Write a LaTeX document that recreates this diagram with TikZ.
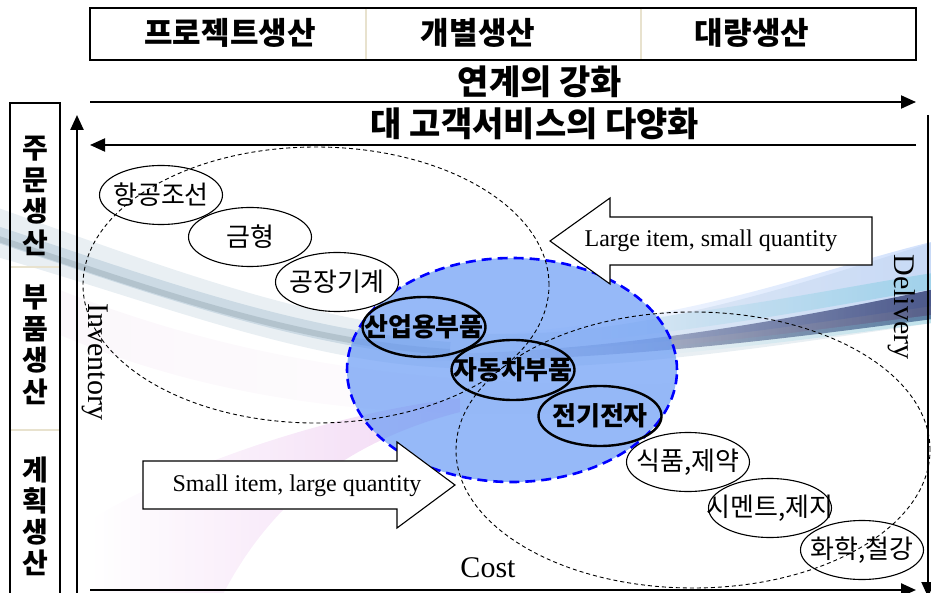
\documentclass[tikz,border=0pt]{standalone}
\usepackage{fontspec}
\setmainfont{Liberation Serif}
\newfontfamily\kr{Noto Sans CJK KR}
\usetikzlibrary{arrows.meta, shapes.geometric, fadings, positioning}

\definecolor{sepline}{RGB}{232,226,206}
\definecolor{partblue}{RGB}{105,155,245}
\definecolor{bandgrey}{RGB}{150,180,200}
\definecolor{bandnavy}{RGB}{20,30,90}
\definecolor{bandcyan}{RGB}{110,200,220}
\definecolor{mistpink}{RGB}{225,165,230}

% keep the ellipse size fixed whatever the label length
\newcommand{\flatlbl}[1]{\makebox[0pt]{#1}}

\begin{document}
\begin{tikzpicture}[x=1pt,y=-1pt,
  every node/.style={inner sep=0pt},
  hdtext/.style={font=\kr\bfseries\fontsize{31}{31}\selectfont},
  trendtext/.style={font=\kr\bfseries\fontsize{34}{34}\selectfont},
  coltext/.style={font=\kr\bfseries\fontsize{28}{28}\selectfont},
  itemnode/.style={ellipse,draw,fill=white,line width=1.1pt,minimum width=123pt,minimum height=59pt,font=\kr\fontsize{26}{26}\selectfont},
  keynode/.style={ellipse,draw,line width=2.4pt,minimum width=123pt,minimum height=60pt,font=\kr\bfseries\fontsize{26}{26}\selectfont},
  grpnode/.style={ellipse,draw,dash pattern=on 4pt off 3pt,line width=0.9pt},
  axisline/.style={line width=2.4pt,-{Triangle[length=15pt,width=13pt]}},
  flowarrow/.style={draw,line width=1.1pt,fill=white},
  entext/.style={font=\fontsize{24}{24}\selectfont},
  axistext/.style={font=\fontsize{30}{30}\selectfont}
]
\useasboundingbox (0,0) rectangle (931,593);
\clip (0,0) rectangle (931,593);

% background swoosh
\fill[bandgrey!60, opacity=.35] (-10,205) .. controls (150,262) and (300,320) .. (450,332)
  .. controls (620,345) and (780,290) .. (940,240) -- (940,322)
  .. controls (780,345) and (620,372) .. (450,368) .. controls (300,362) and (150,300) .. (-10,255) -- cycle;
\draw[bandgrey, line width=16pt, opacity=.35] (-10,232) .. controls (150,285) and (300,340) .. (450,350);
\draw[bandgrey!70!black, line width=6pt, opacity=.25] (-10,236) .. controls (150,290) and (300,343) .. (450,352);
\fill[partblue!60, opacity=.5, path fading=west] (480,335) .. controls (700,322) and (820,268) .. (940,240)
  -- (940,305) .. controls (800,325) and (650,350) .. (480,352) -- cycle;
\draw[bandcyan, line width=16pt, opacity=.45, path fading=west] (600,332) .. controls (760,314) and (860,292) .. (940,280);
\fill[bandnavy, opacity=.7, path fading=west] (420,354) .. controls (600,354) and (780,322) .. (940,288)
  -- (940,318) .. controls (780,340) and (600,362) .. (420,361) -- cycle;
\draw[bandcyan, line width=8pt, opacity=.35, path fading=west] (650,352) .. controls (780,340) and (860,328) .. (940,318);
\fill[violet!25, opacity=.12, path fading=east] (60,290) .. controls (250,365) and (450,392) .. (700,382)
  -- (700,405) .. controls (450,425) and (250,415) .. (60,335) -- cycle;
\fill[mistpink, opacity=.45, path fading=west] (90,600) -- (220,600) .. controls (270,500) and (350,440) .. (460,412)
  -- (460,398) .. controls (320,415) and (170,470) .. (90,520) -- cycle;

% header row
\draw[line width=2pt] (90,8) rectangle (916,60);
\draw[sepline, line width=1.5pt] (366,9) -- (366,59) (641,9) -- (641,59);
\node[hdtext] (hdProj) at (230,33) {프로젝트생산};
\node[hdtext] (hdJob) at (478,33) {개별생산};
\node[hdtext] (hdMass) at (752,33) {대량생산};

\node[trendtext] (tLink) at (540,82) {연계의 강화};
\node[trendtext] (tServ) at (535,124) {대 고객서비스의 다양화};
\coordinate (linkL) at (90,102);
\coordinate (linkR) at (916,102);
\coordinate (servL) at (90,145);
\coordinate (servR) at (916,145);
\draw[axisline, line width=2pt] (linkL) -- (linkR);
\draw[axisline, line width=2pt] (servR) -- (servL);

% left column
\draw[line width=2.4pt] (10,600) -- (10,103) -- (60,103) -- (60,600);
\draw[sepline, line width=1.5pt] (11,267) -- (59,267) (11,430) -- (59,430);
\foreach \ch [count=\i] in {주,문,생,산}
  \node[coltext] (colA\i) at (35,117+31.5*\i) {\ch};
\foreach \ch [count=\i] in {부,품,생,산}
  \node[coltext] (colB\i) at (35,266+31.5*\i) {\ch};
\foreach \ch [count=\i] in {계,획,생,산}
  \node[coltext] (colC\i) at (35,439+31*\i) {\ch};

% axes
\coordinate (origin) at (77,593);
\coordinate (invTop) at (77,115);
\coordinate (costL) at (90,590);
\coordinate (costR) at (916,590);
\coordinate (delTop) at (928,115);
\coordinate (delBot) at (928,597);
\draw[axisline] (origin) -- (invTop);
\draw[axisline] (costL) -- (costR);
\draw[axisline, line width=2pt] (delTop) -- (delBot);
\node[axistext, rotate=-90] (invLbl) at (95,362) {Inventory};
\node[axistext, rotate=-90] (delLbl) at (902,307) {Delivery};
\node[axistext] (costLbl) at (488,568) {Cost};

% parts production zone
\node[ellipse, draw=blue, fill=partblue, fill opacity=.7, line width=2.6pt,
  dash pattern=on 10pt off 6pt, minimum width=330pt, minimum height=224pt] (zoneParts) at (512,370) {};

% block arrows
\draw[flowarrow] (872,217) -- (610,217) -- (610,198) -- (550,241) -- (610,284) -- (610,265) -- (872,265) -- cycle;
\node[entext] (bigFew) at (711,241) {Large item, small quantity};
\draw[flowarrow] (143,461) -- (397,461) -- (397,442) -- (455,485) -- (397,528) -- (397,509) -- (143,509) -- cycle;
\node[entext] (smallMany) at (297,486) {Small item, large quantity};

% industries
\node[itemnode] (iShip) at (161,195) {\flatlbl{항공조선}};
\node[itemnode] (iMold) at (250,237) {\flatlbl{금형}};
\node[itemnode] (iMach) at (337,282) {\flatlbl{공장기계}};
\node[keynode] (kInd) at (424,327) {\flatlbl{산업용부품}};
\node[keynode] (kCar) at (513,370) {\flatlbl{자동차부품}};
\node[keynode] (kElec) at (600,416) {\flatlbl{전기전자}};
\node[itemnode] (iFood) at (688,462) {\flatlbl{식품,제약}};
\node[itemnode] (iCem) at (770,508) {\flatlbl{시멘트,제지}};
\node[itemnode] (iChem) at (862,550) {\flatlbl{화학,철강}};

% order / planned production groups
\node[grpnode, minimum width=466pt, minimum height=276pt] (grpOrder) at (316,285) {};
\node[grpnode, minimum width=474pt, minimum height=276pt] (grpPlan) at (693,450) {};
\end{tikzpicture}
\end{document}
